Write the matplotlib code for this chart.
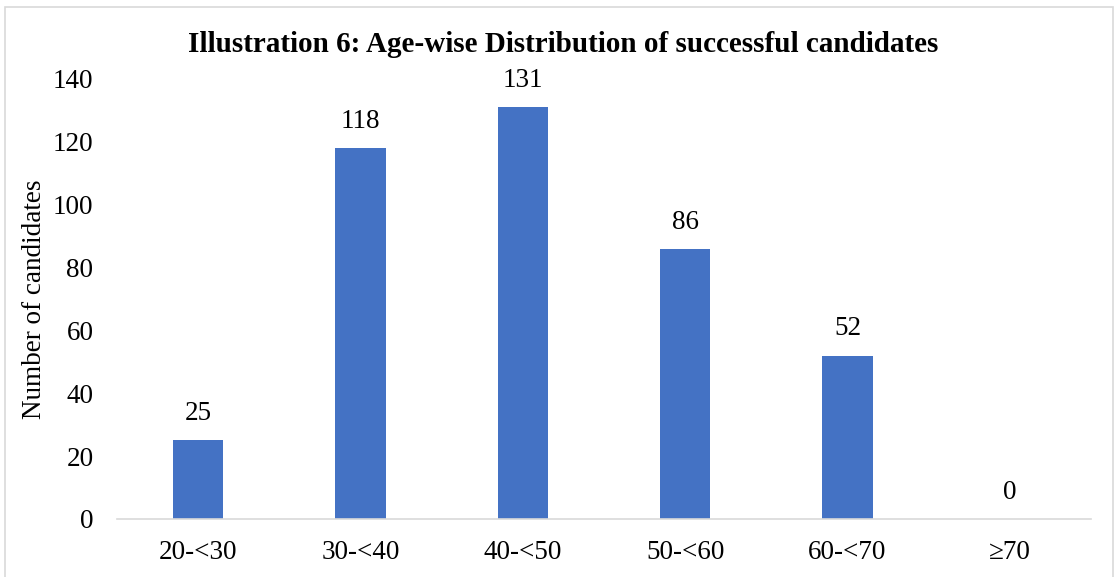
import matplotlib.pyplot as plt
from matplotlib.patches import Rectangle

# data
age_groups = ['20-<30', '30-<40', '40-<50', '50-<60', '60-<70', '≥70']
candidates = [25, 118, 131, 86, 52, 0]

plt.rcParams['font.family'] = ['Liberation Serif', 'DejaVu Serif']

fig = plt.figure(figsize=(11.15, 5.77), dpi=100)
ax = fig.add_axes([117 / 1115, 1 - 519 / 577, (1091 - 117) / 1115, (519 - 79) / 577])

x = range(len(age_groups))
bars = ax.bar(x, candidates, width=0.31, color='#4472C4')
for i, v in enumerate(candidates):
    ax.text(i, v + 4.5, str(v), ha='center', va='bottom', fontsize=19.5)

ax.set_xlim(-0.5, len(age_groups) - 0.5)
ax.set_ylim(0, 140)
ax.set_yticks(range(0, 141, 20))
ax.set_xticks(list(x))
ax.set_xticklabels(age_groups)
ax.tick_params(axis='both', length=0, labelsize=19.5)
ax.tick_params(axis='y', pad=17)
ax.tick_params(axis='x', pad=15)

for s in ['top', 'right', 'left']:
    ax.spines[s].set_visible(False)
ax.spines['bottom'].set_color('#D9D9D9')
ax.spines['bottom'].set_linewidth(1.2)

ax.set_ylabel('Number of candidates', fontsize=19.5, labelpad=4)
fig.text(563 / 1115, 1 - 45 / 577, 'Illustration 6: Age-wise Distribution of successful candidates',
         ha='center', va='center', fontsize=21, fontweight='bold')

# chart frame
fig.patches.append(Rectangle((5 / 1115, -0.01), 1108 / 1115, 1 - 7 / 577 + 0.01,
                             transform=fig.transFigure, fill=False,
                             edgecolor='#D9D9D9', linewidth=1.2))

fig.savefig('out.png', dpi=100)
